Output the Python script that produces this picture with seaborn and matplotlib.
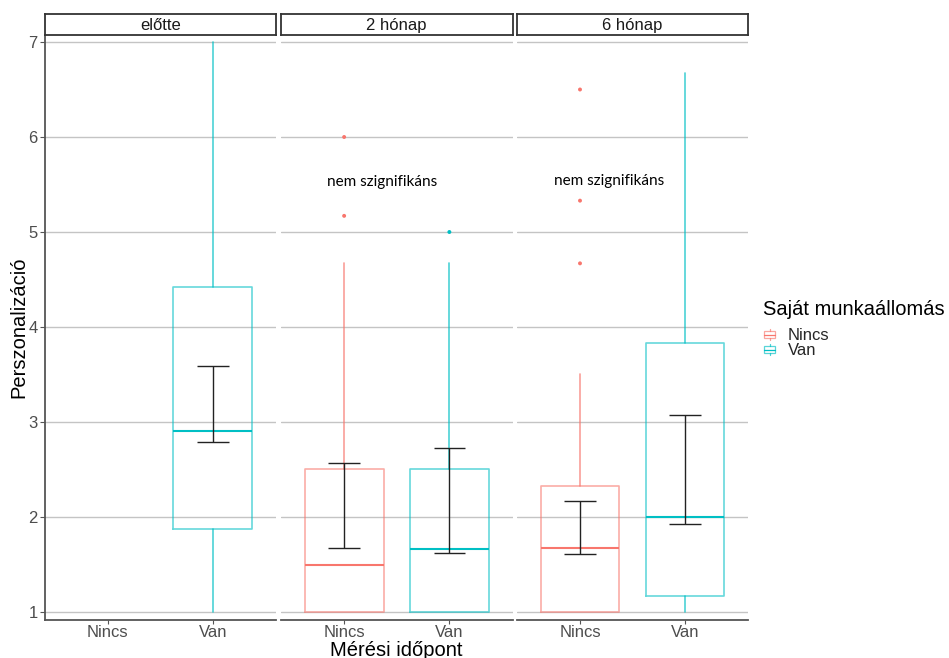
import numpy as np
import pandas as pd
import matplotlib
matplotlib.use("Agg")
import matplotlib.pyplot as plt
import seaborn as sns
from matplotlib.legend_handler import HandlerBase
from matplotlib.patches import Rectangle
from matplotlib.lines import Line2D

# ---------------- data ----------------
facets = ["előtte", "2 hónap", "6 hónap"]
groups = ["Nincs", "Van"]

box_facet = ["előtte", "2 hónap", "2 hónap", "6 hónap", "6 hónap"]
box_group = ["Van", "Nincs", "Van", "Nincs", "Van"]
whislo = [1.0, 1.0, 1.0, 1.0, 1.0]
q1 = [1.87, 1.0, 1.0, 1.0, 1.17]
med = [2.91, 1.5, 1.66, 1.67, 2.0]
q3 = [4.42, 2.5, 2.5, 2.33, 3.83]
whishi = [7.0, 4.67, 4.67, 3.5, 6.67]
ci_low = [2.79, 1.67, 1.62, 1.61, 1.93]
ci_high = [3.59, 2.57, 2.73, 2.17, 3.07]

out_facet = ["2 hónap", "2 hónap", "2 hónap", "6 hónap", "6 hónap", "6 hónap"]
out_group = ["Nincs", "Nincs", "Van", "Nincs", "Nincs", "Nincs"]
out_value = [5.17, 6.0, 5.0, 4.67, 5.33, 6.5]

annot_facet = ["2 hónap", "6 hónap"]
annot_text = ["nem szignifikáns", "nem szignifikáns"]
annot_x = [1.36, 1.28]
annot_y = [5.53, 5.54]

y_ticks = [1, 2, 3, 4, 5, 6, 7]

colors = {"Nincs": "#F8766D", "Van": "#00BFC4"}

stats = pd.DataFrame(dict(facet=box_facet, group=box_group, whislo=whislo, q1=q1,
                          med=med, q3=q3, whishi=whishi, lo=ci_low, hi=ci_high))
outliers = pd.DataFrame(dict(facet=out_facet, group=out_group, value=out_value))
outliers["x"] = outliers["group"].map({g: i + 1 for i, g in enumerate(groups)})

# ---------------- style ----------------
sns.set_theme(style="white")
plt.rcParams["font.family"] = ["Liberation Sans", "DejaVu Sans"]

W, H = 949, 658
fig = plt.figure(figsize=(W / 100, H / 100), dpi=100)

panel_px = [(44.5, 276), (281, 512.5), (517, 748)]
top_px, bot_px = 35, 620
strip_top, strip_bot = 14, 34.5

ylim = (1 - 8 / 95, 7 + 7 / 95)
axes = []
for i, f in enumerate(facets):
    x0, x1 = panel_px[i]
    ax = fig.add_axes([x0 / W, 1 - bot_px / H, (x1 - x0) / W, (bot_px - top_px) / H])
    axes.append(ax)
    ax.set_xlim(0.4, 2.6)
    ax.set_ylim(*ylim)
    for yt in y_ticks:
        ax.axhline(yt, color="#c4c4c4", lw=1.0, zorder=0)
    for s in ["top", "right"]:
        ax.spines[s].set_visible(False)
    ax.spines["bottom"].set_color("#555555")
    ax.spines["bottom"].set_linewidth(1.3)
    if i == 0:
        ax.spines["left"].set_color("#555555")
        ax.spines["left"].set_linewidth(1.3)
        ax.set_yticks(y_ticks)
        ax.set_yticklabels([str(t) for t in y_ticks])
        ax.tick_params(axis="y", length=3.5, width=0.8, color="#555555",
                       labelsize=12, labelcolor="#4d4d4d", pad=1.5, left=True)
    else:
        ax.spines["left"].set_visible(False)
        ax.set_yticks(y_ticks)
        ax.tick_params(axis="y", left=False, labelleft=False)
    ax.set_xticks([1, 2])
    ax.set_xticklabels(groups)
    ax.tick_params(axis="x", length=3, width=0.8, color="#555555", bottom=True,
                   labelsize=12, labelcolor="#4d4d4d", pad=0.5)

    sub = stats[stats["facet"] == f]
    for _, r in sub.iterrows():
        pos = groups.index(r["group"]) + 1
        c = colors[r["group"]]
        bstat = [dict(whislo=r["whislo"], q1=r["q1"], med=r["med"], q3=r["q3"],
                      whishi=r["whishi"], fliers=[])]
        ax.bxp(bstat, positions=[pos], widths=0.75, showfliers=False, showcaps=False,
               manage_ticks=False, patch_artist=False,
               boxprops=dict(color=c, alpha=0.6, lw=1.2),
               whiskerprops=dict(color=c, alpha=0.7, lw=1.2),
               medianprops=dict(color=c, lw=1.5))
        ax.vlines(pos, r["lo"], r["hi"], color="#222222", lw=1.0, zorder=4)
        ax.hlines([r["lo"], r["hi"]], pos - 0.15, pos + 0.15, color="#222222", lw=1.0, zorder=4)

    o = outliers[outliers["facet"] == f]
    if len(o):
        sns.scatterplot(data=o, x="x", y="value", hue="group", palette=colors,
                        s=8, edgecolor="none", legend=False, ax=ax, zorder=5)
    ax.set_xlabel("")
    ax.set_ylabel("")

    for k, af in enumerate(annot_facet):
        if af == f:
            ax.text(annot_x[k], annot_y[k], annot_text[k], ha="center", va="center",
                    fontsize=11, color="black", family=["Lato", "DejaVu Sans"])

    # strip
    sax = fig.add_axes([x0 / W, 1 - strip_bot / H, (x1 - x0) / W, (strip_bot - strip_top) / H])
    sax.set_xticks([]); sax.set_yticks([])
    for s in sax.spines.values():
        s.set_color("#333333"); s.set_linewidth(1.3)
    sax.set_facecolor("white")
    sax.text(0.5, 0.45, f, ha="center", va="center", fontsize=12, color="#1a1a1a",
             transform=sax.transAxes)

fig.text(396 / W, 1 - 650 / H, "Mérési időpont", ha="center", va="center",
         fontsize=14.5, color="black")
fig.text(19 / W, 1 - 327 / H, "Perszonalizáció", ha="center", va="center",
         rotation=90, fontsize=14.5, color="black")


class BoxHandler(HandlerBase):
    def create_artists(self, legend, orig, xdescent, ydescent, width, height, fontsize, trans):
        c = orig.get_color()
        cx = width / 2 - xdescent
        bw = width * 0.9
        bh = height * 0.55
        by = height * 0.22 - ydescent
        rect = Rectangle((cx - bw / 2, by), bw, bh, facecolor="none", edgecolor=c,
                         lw=0.9, alpha=0.65, transform=trans)
        medl = Line2D([cx - bw / 2, cx + bw / 2], [by + bh / 2] * 2, color=c, lw=0.9, transform=trans)
        w1 = Line2D([cx, cx], [by + bh, height - ydescent], color=c, lw=0.9, alpha=0.7, transform=trans)
        w2 = Line2D([cx, cx], [-ydescent, by], color=c, lw=0.9, alpha=0.7, transform=trans)
        return [rect, medl, w1, w2]


fig.text(763 / W, 1 - 309 / H, "Saját munkaállomás", ha="left", va="center",
         fontsize=14.5, color="black")
handles = [Line2D([], [], color=colors[g]) for g in groups]
leg = fig.legend(handles, groups,
                 handler_map={Line2D: BoxHandler()},
                 loc="upper left", bbox_to_anchor=(760 / W, 1 - 325 / H),
                 frameon=False, fontsize=12,
                 handlelength=0.75, handleheight=0.7, handletextpad=0.7,
                 labelspacing=0.0, borderaxespad=0, borderpad=0.2)

fig.savefig("out.png", dpi=100)
